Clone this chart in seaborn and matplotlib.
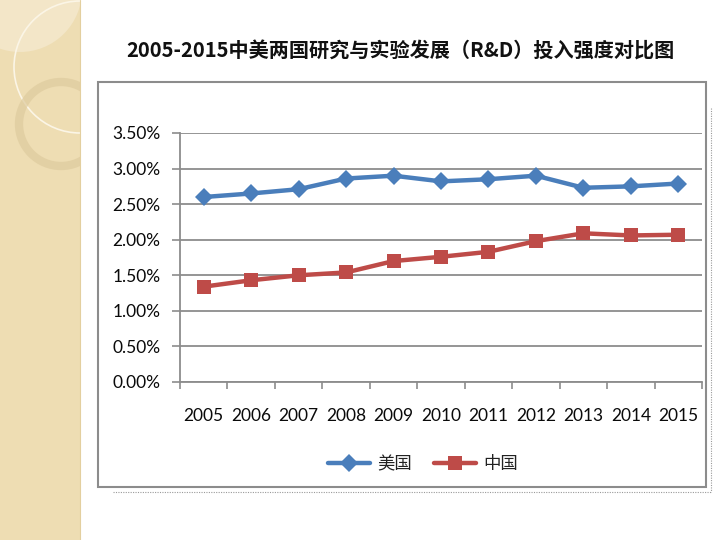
import matplotlib
matplotlib.use("Agg")
import matplotlib.pyplot as plt
import seaborn as sns
import pandas as pd
from matplotlib.patches import Rectangle, Circle
from matplotlib.ticker import FixedLocator

years = ["2005", "2006", "2007", "2008", "2009", "2010", "2011", "2012", "2013", "2014", "2015"]
usa = [2.60, 2.65, 2.71, 2.86, 2.90, 2.82, 2.85, 2.90, 2.73, 2.75, 2.79]
china = [1.34, 1.43, 1.50, 1.54, 1.70, 1.76, 1.83, 1.98, 2.09, 2.06, 2.07]
series_names = ["美国", "中国"]
yticks = [0.0, 0.5, 1.0, 1.5, 2.0, 2.5, 3.0, 3.5]
title = "2005-2015中美两国研究与实验发展（R&D）投入强度对比图"

sns.set_theme(style="white")
plt.rcParams['font.family'] = ['Lato', 'Noto Sans CJK SC', 'DejaVu Sans']

W, H = 723, 540
fig = plt.figure(figsize=(W / 100, H / 100), dpi=100)
fig.patch.set_facecolor("white")

def fx(px):
    return px / W

def fy(py):
    return 1 - py / H

# left decorative strip
bg = fig.add_axes([0, 0, 1, 1], zorder=-10)
bg.set_xlim(0, W)
bg.set_ylim(H, 0)
bg.axis("off")
strip = Rectangle((0, 0), 80, H, facecolor="#EEDDB3", edgecolor="none")
bg.add_patch(strip)
lens = Circle((20, -10), 62, facecolor="#F3E6C8", edgecolor="none")
bg.add_patch(lens)
lens.set_clip_path(strip)
c1 = Circle((80, 67), 66, facecolor="none", edgecolor="#FBF5E6", lw=1.2)
bg.add_patch(c1)
c1.set_clip_path(strip)
ring = Circle((61, 124), 42, facecolor="none", edgecolor="#DECB9E", lw=6, alpha=0.7)
bg.add_patch(ring)
ring.set_clip_path(strip)
bg.plot([80, 80], [0, H], color="#E3CF9F", lw=0.8)

# chart frame
bg.add_patch(Rectangle((98, 82), 608, 405, facecolor="white", edgecolor="#8C8C8C", lw=1.5, zorder=2))
bg.plot([113, 711], [492, 492], color="#9A9A9A", lw=0.8, ls=(0, (1, 1.2)), zorder=1)
bg.plot([711, 711], [108, 492], color="#9A9A9A", lw=0.8, ls=(0, (1, 1.2)), zorder=1)

fig.text(fx(400), fy(51), title, ha="center", va="center", fontsize=14.5,
         fontweight="bold", family=["Noto Sans CJK SC", "DejaVu Sans"], color="#111111")

# plot area
ax = fig.add_axes([fx(180), fy(382), fx(702) - fx(180), fy(133) - fy(382)])
ax.set_facecolor("none")

df = pd.DataFrame({"year": years * 2,
                   "value": usa + china,
                   "country": [series_names[0]] * len(years) + [series_names[1]] * len(years)})

sns.lineplot(data=df[df.country == series_names[0]], x="year", y="value", ax=ax,
             color="#4A7EBB", lw=3.2, marker="D", markersize=9.5, markeredgewidth=0,
             label=series_names[0], zorder=5)
sns.lineplot(data=df[df.country == series_names[1]], x="year", y="value", ax=ax,
             color="#BE4B48", lw=3.2, marker="s", markersize=10, markeredgewidth=0,
             label=series_names[1], zorder=5)

ax.set_xlim(-0.5, len(years) - 0.5)
ax.set_ylim(0, 3.5)
ax.set_yticks(yticks)
ax.set_yticklabels([f"{v:.2f}%" for v in yticks])
ax.set_xticks(range(len(years)))
ax.set_xticklabels(years)
ax.xaxis.set_minor_locator(FixedLocator([i - 0.5 for i in range(len(years) + 1)]))
ax.tick_params(axis="x", which="major", length=0, pad=19, labelsize=12.5, labelcolor="#0A0A0A")
ax.tick_params(axis="x", which="minor", length=5, width=1.2, color="#8C8C8C", direction="out", bottom=True)
ax.tick_params(axis="y", which="major", length=6, width=1.2, color="#8C8C8C", direction="out",
               left=True, pad=8, labelsize=12.5, labelcolor="#0A0A0A")
ax.set_xlabel("")
ax.set_ylabel("")
ax.grid(axis="y", color="#8C8C8C", lw=1.3)
ax.grid(axis="x", visible=False)
ax.set_axisbelow(True)
for s in ["top", "right"]:
    ax.spines[s].set_visible(False)
for s in ["left", "bottom"]:
    ax.spines[s].set_color("#8C8C8C")
    ax.spines[s].set_linewidth(1.3)

handles, labels = ax.get_legend_handles_labels()
ax.get_legend().remove()
leg = fig.legend(handles, labels, loc="center", bbox_to_anchor=(fx(423), fy(464)), ncol=2,
                 frameon=False, handlelength=2.4, handletextpad=0.4, columnspacing=1.3,
                 prop={"family": ["Noto Sans CJK SC", "DejaVu Sans"], "size": 12.5})
for t in leg.get_texts():
    t.set_color("#222222")

fig.savefig("out.png", dpi=100)
